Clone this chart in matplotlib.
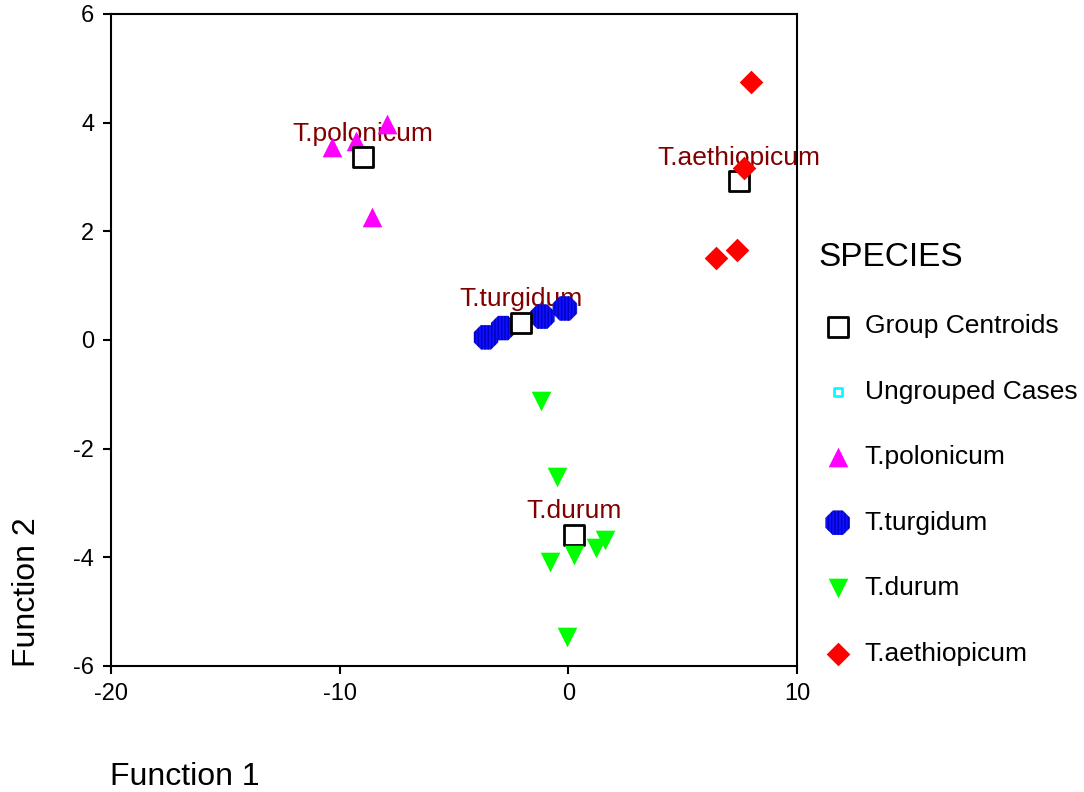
import matplotlib
matplotlib.use('Agg')
import matplotlib.pyplot as plt

"""
Discriminant function scores by species, with group centroids.
"""

plt.rcParams['font.family'] = ['Liberation Sans', 'DejaVu Sans']
plt.rcParams['axes.unicode_minus'] = False

########
# Data #
########

pol_x = [-10.35, -9.29, -7.95, -8.57]
pol_y = [3.56, 3.66, 3.97, 2.27]

turg_x = [-3.60, -2.85, -1.14, -0.15]
turg_y = [0.05, 0.22, 0.43, 0.58]

dur_x = [-1.21, -0.49, -0.80, 0.24, 1.19, 1.60, -0.07]
dur_y = [-1.12, -2.53, -4.09, -3.95, -3.83, -3.69, -5.46]

aeth_x = [8.01, 7.68, 7.36, 6.44]
aeth_y = [4.74, 3.17, 1.65, 1.51]

centroid_x = [-9.00, -2.07, 0.24, 7.47]
centroid_y = [3.36, 0.32, -3.58, 2.92]
centroid_names = ['T.polonicum', 'T.turgidum', 'T.durum', 'T.aethiopicum']

x_ticks = [-20, -10, 0, 10]
y_ticks = [-6, -4, -2, 0, 2, 4, 6]

############
# Plotting #
############

fig = plt.figure(figsize=(10.84, 7.92), dpi=100)
ax = fig.add_axes([111 / 1084, 1 - 666 / 792, 686 / 1084, 652 / 792])

h_pol = ax.scatter(pol_x, pol_y, marker='^', s=200, c='#ff00ff', linewidths=0, zorder=3)
h_turg = ax.scatter(turg_x, turg_y, marker='8', s=350, c='#1010ff', edgecolors='#0000c0',
                    hatch='|||||', linewidths=0.3, zorder=3)
h_cent = ax.scatter(centroid_x, centroid_y, marker='s', s=215, facecolors='white',
                    edgecolors='black', linewidths=2, zorder=4)
h_dur = ax.scatter(dur_x, dur_y, marker='v', s=200, c='#00ff00', linewidths=0, zorder=5)
h_aeth = ax.scatter(aeth_x, aeth_y, marker='D', s=145, c='#ff0000', linewidths=0, zorder=5)
h_ungr = ax.scatter([], [], marker='s', s=40, facecolors='white', edgecolors='#00ffff',
                    linewidths=2)

for cx, cy, name in zip(centroid_x, centroid_y, centroid_names):
    ax.annotate(name, (cx, cy), xytext=(0, 12), textcoords='offset points',
                ha='center', va='baseline', fontsize=19, color='#800000', zorder=2)

ax.set_xlim(-20, 10)
ax.set_ylim(-6, 6)
ax.set_xticks(x_ticks)
ax.set_yticks(y_ticks)
ax.tick_params(direction='out', length=6, width=1.5, labelsize=17, pad=6)
for spine in ax.spines.values():
    spine.set_linewidth(1.5)

fig.text(110 / 1084, 1 - 785 / 792, 'Function 1', fontsize=23, va='baseline', ha='left')
fig.text(12 / 1084, 1 - 667 / 792, 'Function 2', fontsize=23, rotation=90,
         va='bottom', ha='left')

leg = fig.legend([h_cent, h_ungr, h_pol, h_turg, h_dur, h_aeth],
                 ['Group Centroids', 'Ungrouped Cases', 'T.polonicum', 'T.turgidum',
                  'T.durum', 'T.aethiopicum'],
                 title='SPECIES', loc='upper left', bbox_to_anchor=(818 / 1084, 1 - 242 / 792),
                 frameon=False, fontsize=19, title_fontsize=24, alignment='left',
                 borderpad=0, borderaxespad=0, handlelength=1.5, handletextpad=0.27,
                 labelspacing=1.57, scatterpoints=1)

fig.savefig('out.png', dpi=100)
